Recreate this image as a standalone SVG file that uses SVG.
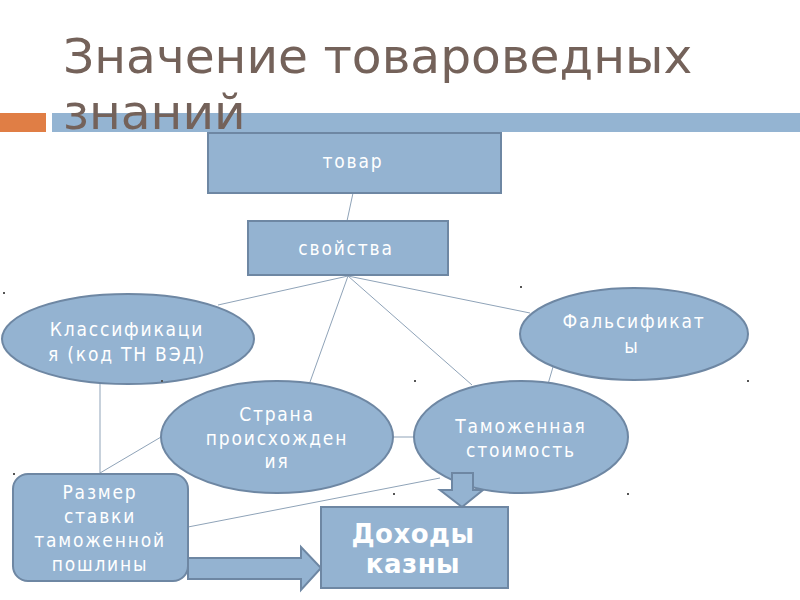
<svg xmlns="http://www.w3.org/2000/svg" width="800" height="600" viewBox="0 0 800 600">
<style>
  .title { font-family: "DejaVu Sans", "Liberation Sans", sans-serif; font-size: 48.7px; fill: #74625a; }
  .node { fill: #94b3d1; stroke: #6e87a3; stroke-width: 2; }
  .lbl { font-family: "DejaVu Sans Condensed", "DejaVu Sans", sans-serif; font-size: 19px; fill: #ffffff; text-anchor: middle; letter-spacing: 1.8px; }
  .big { font-family: "DejaVu Sans", "Liberation Sans", sans-serif; font-size: 26px; font-weight: bold; fill: #ffffff; text-anchor: middle; letter-spacing: 0.5px; }
  .conn line { stroke: #8fa3b8; stroke-width: 1; }
  .dot { fill: #555555; }
</style>
<rect width="800" height="600" fill="#ffffff"/>
<g id="title-bars">
  <rect x="0" y="113" width="46" height="19" fill="#e07e45"/>
  <rect x="52" y="113" width="748" height="19" fill="#94b4d2"/>
</g>
<g id="title">
  <text class="title" x="63" y="73">Значение товароведных</text>
  <text class="title" x="63" y="129">знаний</text>
</g>
<g class="conn" id="connectors">
  <line x1="353" y1="193" x2="347" y2="221"/>
  <line x1="348" y1="276" x2="218" y2="305"/>
  <line x1="348" y1="276" x2="310" y2="382"/>
  <line x1="348" y1="276" x2="472" y2="385"/>
  <line x1="348" y1="276" x2="530" y2="313"/>
  <line x1="100" y1="384" x2="100" y2="473"/>
  <line x1="161" y1="437" x2="100" y2="473"/>
  <line x1="393" y1="437" x2="414" y2="437"/>
  <line x1="553" y1="367" x2="548" y2="384"/>
  <line x1="188" y1="527" x2="440" y2="478"/>
</g>
<g id="tovar">
  <rect class="node" x="208" y="133" width="293" height="60"/>
  <text class="lbl" x="353" y="168">товар</text>
</g>
<g id="svoistva">
  <rect class="node" x="248" y="221" width="200" height="54"/>
  <text class="lbl" x="346" y="255">свойства</text>
</g>
<g id="klassifikatsiya">
  <ellipse class="node" cx="128" cy="339" rx="126" ry="45"/>
  <text class="lbl" x="127" y="336">Классификаци</text>
  <text class="lbl" x="127" y="361">я (код ТН ВЭД)</text>
</g>
<g id="falsifikaty">
  <ellipse class="node" cx="634" cy="334" rx="114" ry="46"/>
  <text class="lbl" x="634" y="328">Фальсификат</text>
  <text class="lbl" x="632" y="353">ы</text>
</g>
<g id="strana">
  <ellipse class="node" cx="277" cy="437" rx="116" ry="56"/>
  <text class="lbl" x="277" y="421">Страна</text>
  <text class="lbl" x="277" y="445">происхожден</text>
  <text class="lbl" x="277" y="468">ия</text>
</g>
<g id="tamozhennaya">
  <ellipse class="node" cx="521" cy="437" rx="107" ry="56"/>
  <text class="lbl" x="521" y="433">Таможенная</text>
  <text class="lbl" x="521" y="457">стоимость</text>
</g>
<g id="razmer">
  <rect class="node" x="13" y="474" width="175" height="107" rx="15"/>
  <text class="lbl" x="100" y="499">Размер</text>
  <text class="lbl" x="100" y="523">ставки</text>
  <text class="lbl" x="100" y="547">таможенной</text>
  <text class="lbl" x="100" y="571">пошлины</text>
</g>
<g id="arrow-right">
  <polygon class="node" points="188,558 301,558 301,547 321,568 301,590 301,579 188,579"/>
</g>
<g id="dokhody">
  <rect class="node" x="321" y="507" width="187" height="81"/>
  <text class="big" x="413" y="543">Доходы</text>
  <text class="big" x="413" y="573">казны</text>
</g>
<g id="arrow-down">
  <polygon class="node" points="452,473 473,473 473,490 483,490 462,507 440,490 452,490"/>
</g>
<g id="dots">
  <rect class="dot" x="3" y="292" width="2" height="2"/>
  <rect class="dot" x="520" y="286" width="2" height="2"/>
  <rect class="dot" x="414" y="380" width="2" height="2"/>
  <rect class="dot" x="747" y="380" width="2" height="2"/>
  <rect class="dot" x="161" y="380" width="2" height="2"/>
  <rect class="dot" x="13" y="473" width="2" height="2"/>
  <rect class="dot" x="393" y="493" width="2" height="2"/>
  <rect class="dot" x="627" y="493" width="2" height="2"/>
</g>
</svg>
